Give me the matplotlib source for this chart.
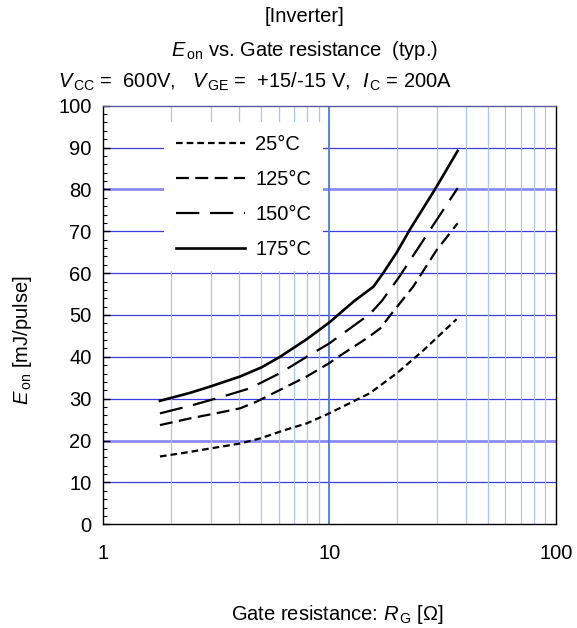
#!/usr/bin/env python3
"""
Eon vs. gate resistance (typ.) - inverter switching loss curves.

Output:
    - out.png
"""

import matplotlib
matplotlib.use("Agg")
import matplotlib.pyplot as plt
import numpy as np

# ============================================================================
# DATA
# ============================================================================

rg_25 = [1.79, 2.43, 3.29, 4.04, 4.95, 6.27, 7.95, 10.0, 15.1, 19.9, 26.1, 36.5]
eon_25 = [16.2, 17.3, 18.5, 19.3, 20.5, 22.4, 24.1, 26.5, 31.3, 36.1, 41.6, 49.0]

rg_125 = [1.79, 2.43, 3.29, 4.04, 4.78, 6.06, 7.95, 10.0, 11.1, 14.9, 16.8, 18.9, 23.5, 29.8, 36.9]
eon_125 = [23.7, 25.3, 26.7, 27.7, 29.3, 32.1, 35.3, 38.5, 40.2, 44.7, 46.8, 50.4, 56.8, 65.5, 71.9]

rg_150 = [1.79, 2.43, 3.29, 4.47, 6.06, 7.95, 10.0, 12.8, 15.1, 17.1, 20.2, 25.2, 29.8, 36.9]
eon_150 = [26.5, 28.3, 30.3, 32.5, 36.1, 40.0, 43.2, 47.4, 50.2, 53.4, 58.8, 66.7, 72.7, 80.3]

rg_175 = [1.79, 2.43, 2.98, 4.04, 5.03, 6.06, 7.95, 10.0, 12.8, 15.7, 17.3, 19.9, 22.7, 29.3, 36.9]
eon_175 = [29.5, 31.4, 32.9, 35.3, 37.5, 40.0, 44.2, 48.2, 53.2, 56.8, 60.0, 65.0, 70.4, 80.0, 89.2]

series_labels = ["25°C", "125°C", "150°C", "175°C"]

# ============================================================================

plt.rcParams["font.family"] = ["Liberation Sans", "DejaVu Sans"]
plt.rcParams["mathtext.fontset"] = "custom"
plt.rcParams["mathtext.rm"] = "Liberation Sans"
plt.rcParams["mathtext.it"] = "Liberation Sans:italic"

FS = 14.5
W, H = 577, 628
fig = plt.figure(figsize=(W / 100, H / 100), dpi=100)

# axes box in pixels: x 102.7..555.7, y 105.7..524.3
ax = fig.add_axes([102.7 / W, 1 - 524.3 / H, 453 / W, 418.6 / H])
ax.set_xscale("log")
ax.set_xlim(1, 100)
ax.set_ylim(0, 100)

# grid
for v in range(10, 100, 10):
    if v in (20, 80):
        ax.axhline(v, color="#8a8af2", lw=2.0, zorder=1)
    else:
        ax.axhline(v, color="#3c3ce0", lw=0.9, zorder=1)
for dec in (1, 10):
    for m in range(2, 10):
        ax.axvline(dec * m, color="#a9c5f3", lw=0.9, zorder=1)
ax.axvline(10, color="#4a7be8", lw=1.3, zorder=1)

# curves
styles = [
    dict(ls=(0, (3.0, 1.8)), lw=1.6),
    dict(ls=(0, (5.8, 2.9)), lw=1.6),
    dict(ls=(0, (10.5, 4.8)), lw=1.6),
    dict(ls="-", lw=1.9),
]
data = [(rg_25, eon_25), (rg_125, eon_125), (rg_150, eon_150), (rg_175, eon_175)]
for (x, y), st, lab in zip(data, styles, series_labels):
    ax.plot(x, y, color="black", linestyle=st["ls"], linewidth=st["lw"], label=lab, zorder=3)

leg = ax.legend(loc="upper left", bbox_to_anchor=(0.114, 0.984), fontsize=FS,
                frameon=True, facecolor="white", edgecolor="none", framealpha=1,
                fancybox=False, handlelength=3.4, handletextpad=0.5,
                labelspacing=0.8, borderpad=0.6)
leg.set_zorder(5)

# ticks
ax.set_xticks([1, 10, 100])
ax.set_xticklabels(["1", "10", "100"])
ax.xaxis.set_minor_locator(matplotlib.ticker.NullLocator())
ax.tick_params(axis="x", which="both", length=0, pad=14, labelsize=FS)
ax.set_yticks(np.arange(0, 101, 10))
ax.set_yticks(np.arange(0, 101, 2), minor=True)
ax.tick_params(axis="y", which="major", direction="in", length=5, width=1, pad=8, labelsize=FS)
ax.tick_params(axis="y", which="minor", direction="in", length=3, width=0.8)
for s in ax.spines.values():
    s.set_color("black")
    s.set_linewidth(1.0)
    s.set_zorder(6)
ax.spines["top"].set_color("#5a5a9a")

# titles / labels
fig.text(305 / W, 1 - 17 / H, "[Inverter]", ha="center", va="center", fontsize=FS)
fig.text(305 / W, 1 - 50 / H, r"$E_{\,\rm on}$ vs. Gate resistance  (typ.)",
         ha="center", va="center", fontsize=FS)
fig.text(58 / W, 1 - 82 / H, r"$V_{\,\rm CC}$ =  600V,", ha="left", va="center", fontsize=FS)
fig.text(192 / W, 1 - 82 / H, r"$V_{\,\rm GE}$ =  +15/-15 V,", ha="left", va="center", fontsize=FS)
fig.text(362 / W, 1 - 82 / H, r"$I_{\,\rm C}$ = 200A", ha="left", va="center", fontsize=FS)

fig.text(337 / W, 1 - 614 / H, r"Gate resistance: $R_{\,\rm G}$ [Ω]",
         ha="center", va="center", fontsize=FS)
fig.text(23 / W, 1 - 340 / H, r"$E_{\,\rm on}$ [mJ/pulse]", ha="center", va="center",
         rotation=90, fontsize=FS)

fig.savefig("out.png", dpi=100)
